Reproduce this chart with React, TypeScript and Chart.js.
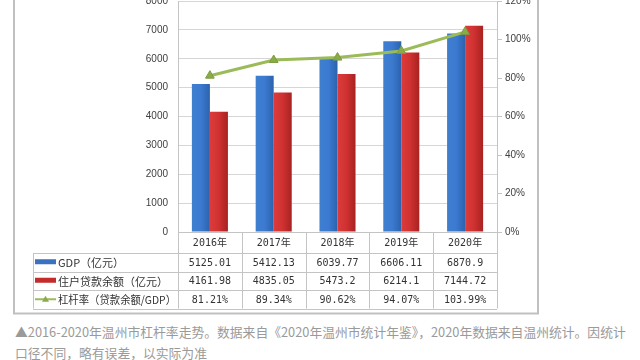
import React, { useEffect, useRef } from "react";
import { Chart, registerables } from "chart.js";

Chart.register(...registerables);

const categories = ["2016年", "2017年", "2018年", "2019年", "2020年"];
const gdp = [5125.01, 5412.13, 6039.77, 6606.11, 6870.9];
const loans = [4161.98, 4835.05, 5473.2, 6214.1, 7144.72];
const leverage = [81.21, 89.34, 90.62, 94.07, 103.99];
const seriesNames = ["GDP（亿元）", "住户贷款余额（亿元）", "杠杆率（贷款余额/GDP）"];
const leftMax = 8000;
const leftStep = 1000;
const rightMax = 120;
const rightStep = 20;
const caption1 =
  "▲2016-2020年温州市杠杆率走势。数据来自《2020年温州市统计年鉴》，2020年数据来自温州统计。因统计";
const caption2 = "口径不同，略有误差，以实际为准";

const CAT_PCT = 0.565;
const CANVAS_W = 640;
const OFFSET = 15;
const CANVAS_H = 318 + OFFSET;
const BOTTOM_PAD = CANVAS_H - (232 + OFFSET);

function barGradient(c: any, side: number) {
  const chart = c.chart;
  const area = chart.chartArea;
  const xs = chart.scales && chart.scales.x;
  if (!area || !xs) return side === 0 ? "#3a7bd0" : "#cc3333";
  const cx = xs.getPixelForValue(c.dataIndex);
  const catW = (area.right - area.left) / categories.length;
  const bw = (catW * CAT_PCT) / 2;
  const x0 = side === 0 ? cx - bw : cx;
  const g = chart.ctx.createLinearGradient(x0, 0, x0 + bw, 0);
  if (side === 0) {
    g.addColorStop(0, "#3f7fcf");
    g.addColorStop(0.5, "#3b7ad0");
    g.addColorStop(1, "#2c62ad");
  } else {
    g.addColorStop(0, "#dd3b3b");
    g.addColorStop(0.5, "#cf3131");
    g.addColorStop(1, "#a82222");
  }
  return g;
}

const tablePlugin = {
  id: "dataTable",
  beforeDraw(chart: any) {
    const ctx = chart.ctx;
    ctx.save();
    ctx.fillStyle = "#ffffff";
    ctx.fillRect(0, 0, chart.width, chart.height);
    ctx.restore();
  },
  afterDraw(chart: any) {
    const ctx = chart.ctx;
    const area = chart.chartArea;
    const n = categories.length;
    const catW = (area.right - area.left) / n;
    const top = area.bottom;
    const headerB = top + 21;
    const rowH = 18.5;
    const tableB = headerB + rowH * 3;
    const tableLeft = 33;
    const px = (v: number) => Math.round(v) + 0.5;

    ctx.save();
    ctx.strokeStyle = "#c4c4c4";
    ctx.lineWidth = 1;
    ctx.beginPath();
    ctx.moveTo(area.left, px(top));
    ctx.lineTo(area.right, px(top));
    for (let i = 0; i <= 3; i++) {
      const y = px(headerB + i * rowH);
      ctx.moveTo(tableLeft, y);
      ctx.lineTo(area.right, y);
    }
    for (let i = 0; i <= n; i++) {
      const x = px(area.left + i * catW);
      ctx.moveTo(x, top);
      ctx.lineTo(x, tableB);
    }
    ctx.moveTo(px(tableLeft), headerB);
    ctx.lineTo(px(tableLeft), tableB);
    ctx.stroke();

    ctx.fillStyle = "#333333";
    ctx.textAlign = "center";
    ctx.textBaseline = "middle";
    ctx.font = "10px 'DejaVu Sans Mono', 'Noto Sans CJK SC'";
    const rows = [
      gdp.map((v) => String(v)),
      loans.map((v) => String(v)),
      leverage.map((v) => v.toFixed(2) + "%"),
    ];
    for (let i = 0; i < n; i++) {
      const cx = area.left + (i + 0.5) * catW;
      ctx.fillText(categories[i], cx, (top + headerB) / 2 + 1);
      for (let r = 0; r < 3; r++) {
        ctx.fillText(rows[r][i], cx, headerB + (r + 0.5) * rowH + 1);
      }
    }

    ctx.textAlign = "left";
    ctx.font = "11px 'Noto Sans CJK SC'";
    for (let r = 0; r < 3; r++) {
      const cy = headerB + (r + 0.5) * rowH;
      if (r === 0) {
        ctx.fillStyle = "#3a72c0";
        ctx.fillRect(35, cy - 3, 21, 5);
      } else if (r === 1) {
        ctx.fillStyle = "#c42c2c";
        ctx.fillRect(35, cy - 3, 21, 5);
      } else {
        ctx.strokeStyle = "#9bbb59";
        ctx.lineWidth = 2;
        ctx.beginPath();
        ctx.moveTo(35, cy);
        ctx.lineTo(56, cy);
        ctx.stroke();
        ctx.fillStyle = "#8aab48";
        ctx.beginPath();
        ctx.moveTo(45.5, cy - 3.5);
        ctx.lineTo(49, cy + 2.5);
        ctx.lineTo(42, cy + 2.5);
        ctx.closePath();
        ctx.fill();
      }
      ctx.fillStyle = "#333333";
      ctx.fillText(seriesNames[r], 58, cy + 1, area.left - 60);
    }

    ctx.strokeStyle = "#c0c0c0";
    ctx.lineWidth = 2;
    ctx.strokeRect(14, -4, 524, tableB + 9);
    ctx.restore();
  },
};

export default function App() {
  const ref = useRef<HTMLCanvasElement | null>(null);

  useEffect(() => {
    if (!ref.current) return;
    const chart = new Chart(ref.current, {
      type: "bar",
      data: {
        labels: categories,
        datasets: [
          {
            type: "line",
            label: seriesNames[2],
            data: leverage,
            yAxisID: "y1",
            borderColor: "#9bbb59",
            borderWidth: 3,
            pointStyle: "triangle",
            pointRadius: 5,
            pointBackgroundColor: "#8aab48",
            pointBorderColor: "#7d9c40",
            pointBorderWidth: 1,
            tension: 0,
            order: 0,
          } as any,
          {
            label: seriesNames[0],
            data: gdp,
            yAxisID: "y",
            backgroundColor: (c: any) => barGradient(c, 0),
            borderWidth: 0,
            categoryPercentage: CAT_PCT,
            barPercentage: 1,
            order: 1,
          },
          {
            label: seriesNames[1],
            data: loans,
            yAxisID: "y",
            backgroundColor: (c: any) => barGradient(c, 1),
            borderWidth: 0,
            categoryPercentage: CAT_PCT,
            barPercentage: 1,
            order: 1,
          },
        ],
      },
      options: {
        responsive: false,
        animation: false,
        layout: {
          autoPadding: false,
          padding: { left: 0, right: 0, top: OFFSET - 1, bottom: BOTTOM_PAD },
        } as any,
        plugins: {
          legend: { display: false },
          tooltip: { enabled: false },
        },
        scales: {
          x: { display: false },
          y: {
            position: "left",
            min: 0,
            max: leftMax,
            afterFit: (s: any) => {
              s.width = 178;
            },
            ticks: {
              stepSize: leftStep,
              padding: 10,
              color: "#404040",
              font: { family: "'Liberation Sans', Arial", size: 10 },
              callback: (v: any) => String(v),
            },
            grid: { color: "#d6d6d6", drawTicks: false },
            border: { display: true, color: "#c4c4c4" },
          },
          y1: {
            position: "right",
            min: 0,
            max: rightMax,
            afterFit: (s: any) => {
              s.width = 143;
            },
            ticks: {
              stepSize: rightStep,
              padding: 3,
              color: "#404040",
              font: { family: "'Liberation Sans', Arial", size: 10 },
              callback: (v: any) => v + "%",
            },
            grid: { drawOnChartArea: false, tickLength: 5, color: "#c4c4c4" },
            border: { display: true, color: "#c4c4c4" },
          },
        },
      },
      plugins: [tablePlugin],
    });
    return () => chart.destroy();
  }, []);

  return (
    <div>
      <canvas
        ref={ref}
        width={CANVAS_W}
        height={CANVAS_H}
        style={{
          position: "absolute",
          left: 0,
          top: -OFFSET,
          width: CANVAS_W,
          height: CANVAS_H,
        }}
      />
      <div
        style={{
          position: "absolute",
          left: 15,
          top: 321,
          width: 625,
          fontFamily: "'Noto Sans CJK SC', 'Noto Sans', sans-serif",
          fontSize: 12.8,
          lineHeight: "21px",
          color: "#9a9a9a",
          whiteSpace: "nowrap",
        }}
      >
        <div>{caption1}</div>
        <div>{caption2}</div>
      </div>
    </div>
  );
}
